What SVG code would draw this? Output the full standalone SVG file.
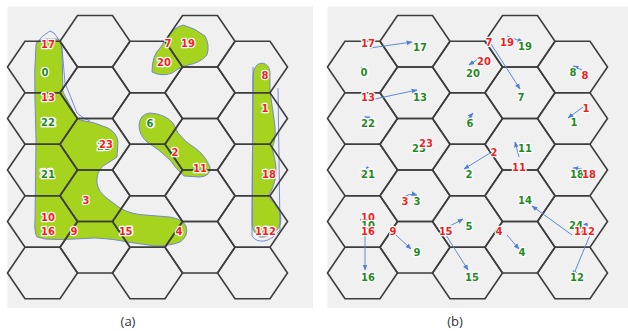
<svg xmlns="http://www.w3.org/2000/svg" width="628" height="331" viewBox="0 0 628 331">
<style>
.bg{fill:#f0f0f0}
.hx{fill:none;stroke:#3d3d3d;stroke-width:1.6}
.blob{fill:#a6d31e;stroke:#6c7fd6;stroke-width:0.9}
.ol{fill:none;stroke:#6c7fd6;stroke-width:0.9}
text{font-family:"DejaVu Sans",Verdana,sans-serif;font-weight:bold;font-size:10px;text-anchor:middle;paint-order:stroke;stroke:#ffffff;stroke-width:2.4;stroke-linejoin:round}
.r{fill:#f51c1c}
.g{fill:#1f8a1f}
.cap{font-family:"Open Sans","Liberation Sans",sans-serif;font-weight:normal;font-size:13px;fill:#333;stroke:none}
.ar{fill:none;stroke:#5c8ad8;stroke-width:1;marker-end:url(#ah)}
</style>
<defs>
<path id="h" d="M-35,0 L-17.5,-25.75 L17.5,-25.75 L35,0 L17.5,25.75 L-17.5,25.75 Z"/>
<marker id="ah" viewBox="0 0 10 10" refX="9" refY="5" markerWidth="6" markerHeight="6" orient="auto"><path d="M0,1 L10,5 L0,9 Z" fill="#4f7fd6"/></marker>
<g id="grid">
<use href="#h" x="42.5" y="67"/><use href="#h" x="42.5" y="118.5"/><use href="#h" x="42.5" y="170"/><use href="#h" x="42.5" y="221.5"/><use href="#h" x="42.5" y="273"/>
<use href="#h" x="95" y="41.25"/><use href="#h" x="95" y="92.75"/><use href="#h" x="95" y="144.25"/><use href="#h" x="95" y="195.75"/><use href="#h" x="95" y="247.25"/>
<use href="#h" x="147.5" y="67"/><use href="#h" x="147.5" y="118.5"/><use href="#h" x="147.5" y="170"/><use href="#h" x="147.5" y="221.5"/><use href="#h" x="147.5" y="273"/>
<use href="#h" x="200" y="41.25"/><use href="#h" x="200" y="92.75"/><use href="#h" x="200" y="144.25"/><use href="#h" x="200" y="195.75"/><use href="#h" x="200" y="247.25"/>
<use href="#h" x="252.5" y="67"/><use href="#h" x="252.5" y="118.5"/><use href="#h" x="252.5" y="170"/><use href="#h" x="252.5" y="221.5"/><use href="#h" x="252.5" y="273"/>
</g>
</defs>

<!-- panel (a) -->
<g id="panel-a">
<rect class="bg" x="7.5" y="6.5" width="305.5" height="301.5"/>
<g id="regions-a">
<path class="blob" d="M36,44 Q38,39 48,39 L58,39 Q62,42 62,50 L63,92 L77,118 L80,120 Q95,122 108,128 Q117,133 118,142 L117,157 Q110,162 103,166 Q96,173 97,183 Q98,192 108,199 L120,208 Q130,214 145,215 L170,217 Q182,219 186,226 Q189,236 180,242 Q170,246 155,246 L127,242 Q115,239 95,238 L75,239 Q60,240 45,239 L37,237 Q34,232 35,220 L36,140 L35,100 Q34,70 36,44 Z"/>
<path class="ol" d="M36,44 Q42,35 50,31 L54,33 Q60,39 62,48 L65,83 Q70,95 77,113 Q84,119 90,121"/>
<path class="blob" d="M152,72 Q152,55 160,48 L168,36 Q175,27 183,25 Q195,28 205,36 Q210,45 207,55 Q200,63 188,65 Q178,68 172,73 Q162,77 152,72 Z"/>
<path class="blob" d="M139,125 Q140,114 150,113 Q165,114 173,123 L178,133 Q185,142 195,148 Q205,155 210,167 Q211,176 200,177 L184,176 Q177,170 170,160 Q160,150 147,142 Q139,135 139,125 Z"/>
<path class="blob" d="M253,75 Q254,64 262,63 Q269,64 270,72 L270,92 Q273,110 275,127 Q276,140 272,148 Q277,165 276,175 Q274,188 268,196 Q275,203 280,212 Q283,225 276,231 Q268,238 260,237 Q253,233 252,225 L253,75 Z"/>
<path class="ol" d="M253,67 L252,236 Q256,242 264,241 Q272,240 280,230 L278,88"/>
</g>
<use href="#grid" class="hx"/>
<g id="labels-a">
<text class="r" x="48" y="47.6">17</text>
<text class="g" x="45" y="75.6">0</text>
<text class="r" x="48" y="100.6">13</text>
<text class="r" x="49" y="125.6">22</text>
<text class="g" x="48" y="125.6">22</text>
<text class="g" x="104" y="149.6">23</text>
<text class="r" x="106" y="147.6">23</text>
<text class="r" x="151" y="126.6">6</text>
<text class="g" x="150" y="126.6">6</text>
<text class="r" x="168" y="46.6">7</text>
<text class="r" x="188" y="46.6">19</text>
<text class="r" x="164" y="65.6">20</text>
<text class="r" x="265" y="78.6">8</text>
<text class="r" x="265" y="111.6">1</text>
<text class="r" x="47" y="176.6">21</text>
<text class="g" x="48" y="177.6">21</text>
<text class="r" x="86" y="203.6">3</text>
<text class="r" x="48" y="220.6">10</text>
<text class="r" x="48" y="234.6">16</text>
<text class="r" x="74" y="234.6">9</text>
<text class="r" x="126" y="234.6">15</text>
<text class="r" x="129" y="234.6">5</text>
<text class="r" x="175" y="155.6">2</text>
<text class="r" x="200" y="171.6">11</text>
<text class="r" x="269" y="177.6">18</text>
<text class="r" x="179" y="234.6">4</text>
<text class="r" x="262" y="234.6">14</text>
<text class="r" x="269" y="234.6">12</text>
</g>
</g>

<!-- panel (b) -->
<g id="panel-b">
<rect class="bg" x="327.5" y="6.5" width="305.5" height="301.5"/>
<use href="#grid" class="hx" transform="translate(320,0)"/>
<g id="connectors">
<path class="ar" d="M370,48 L412,42"/>
<path class="ar" d="M364,71 L361,67"/>
<path class="ar" d="M370,100 L417,90"/>
<path class="ar" d="M363,119 L370,117"/>
<path class="ar" d="M467,120 L473,113"/>
<path class="ar" d="M478,59 L469,65"/>
<path class="ar" d="M491,44 L520,89"/>
<path class="ar" d="M507,36 L523,42"/>
<path class="ar" d="M582,70 L573,66"/>
<path class="ar" d="M583,107 L568,118"/>
<path class="ar" d="M490,153 L464,169"/>
<path class="ar" d="M519,157 L515,142"/>
<path class="ar" d="M366,168 L371,170"/>
<path class="ar" d="M403,197 Q409,193 417,195"/>
<path class="ar" d="M365,223 L360,219"/>
<path class="ar" d="M365,232 L365,270"/>
<path class="ar" d="M396,235 L411,249"/>
<path class="ar" d="M448,227 L463,219"/>
<path class="ar" d="M446,235 L468,270"/>
<path class="ar" d="M507,235 L519,249"/>
<path class="ar" d="M582,169 L573,168"/>
<path class="ar" d="M572,235 L532,206"/>
<path class="ar" d="M590,235 L573,276"/>
<path class="ar" d="M585,223 L588,228"/>
</g>
<g id="labels-b">
<text class="r" x="368" y="46.6">17</text>
<text class="g" x="420" y="50.6">17</text>
<text class="r" x="365" y="75.6">0</text>
<text class="g" x="364" y="75.6">0</text>
<text class="r" x="368" y="100.6">13</text>
<text class="g" x="420" y="100.6">13</text>
<text class="r" x="369" y="126.6">22</text>
<text class="g" x="368" y="126.6">22</text>
<text class="r" x="471" y="126.6">6</text>
<text class="g" x="470" y="126.6">6</text>
<text class="r" x="484" y="64.6">20</text>
<text class="g" x="473" y="76.6">20</text>
<text class="g" x="419" y="151.6">23</text>
<text class="r" x="426" y="146.6">23</text>
<text class="r" x="489" y="45.6">7</text>
<text class="g" x="521" y="100.6">7</text>
<text class="r" x="507" y="45.6">19</text>
<text class="g" x="525" y="49.6">19</text>
<text class="g" x="573" y="75.6">8</text>
<text class="r" x="585" y="78.6">8</text>
<text class="r" x="586" y="111.6">1</text>
<text class="g" x="574" y="125.6">1</text>
<text class="r" x="494" y="155.6">2</text>
<text class="g" x="469" y="177.6">2</text>
<text class="g" x="525" y="151.6">11</text>
<text class="r" x="519" y="170.6">11</text>
<text class="r" x="367" y="176.6">21</text>
<text class="g" x="368" y="177.6">21</text>
<text class="r" x="405" y="204.6">3</text>
<text class="g" x="417" y="204.6">3</text>
<text class="r" x="368" y="220.6">10</text>
<text class="g" x="368" y="228.6">10</text>
<text class="r" x="368" y="234.6">16</text>
<text class="g" x="368" y="280.6">16</text>
<text class="r" x="393" y="234.6">9</text>
<text class="g" x="417" y="255.6">9</text>
<text class="r" x="446" y="234.6">15</text>
<text class="r" x="449" y="234.6">5</text>
<text class="g" x="469" y="229.6">5</text>
<text class="g" x="472" y="280.6">15</text>
<text class="r" x="499" y="234.6">4</text>
<text class="g" x="522" y="255.6">4</text>
<text class="g" x="525" y="203.6">14</text>
<text class="g" x="577" y="177.6">18</text>
<text class="r" x="589" y="177.6">18</text>
<text class="g" x="576" y="228.6">24</text>
<text class="r" x="581" y="234.6">14</text>
<text class="r" x="588" y="234.6">12</text>
<text class="g" x="577" y="280.6">12</text>
</g>
</g>

<text class="cap" x="128" y="326">(a)</text>
<text class="cap" x="455" y="326">(b)</text>
</svg>
